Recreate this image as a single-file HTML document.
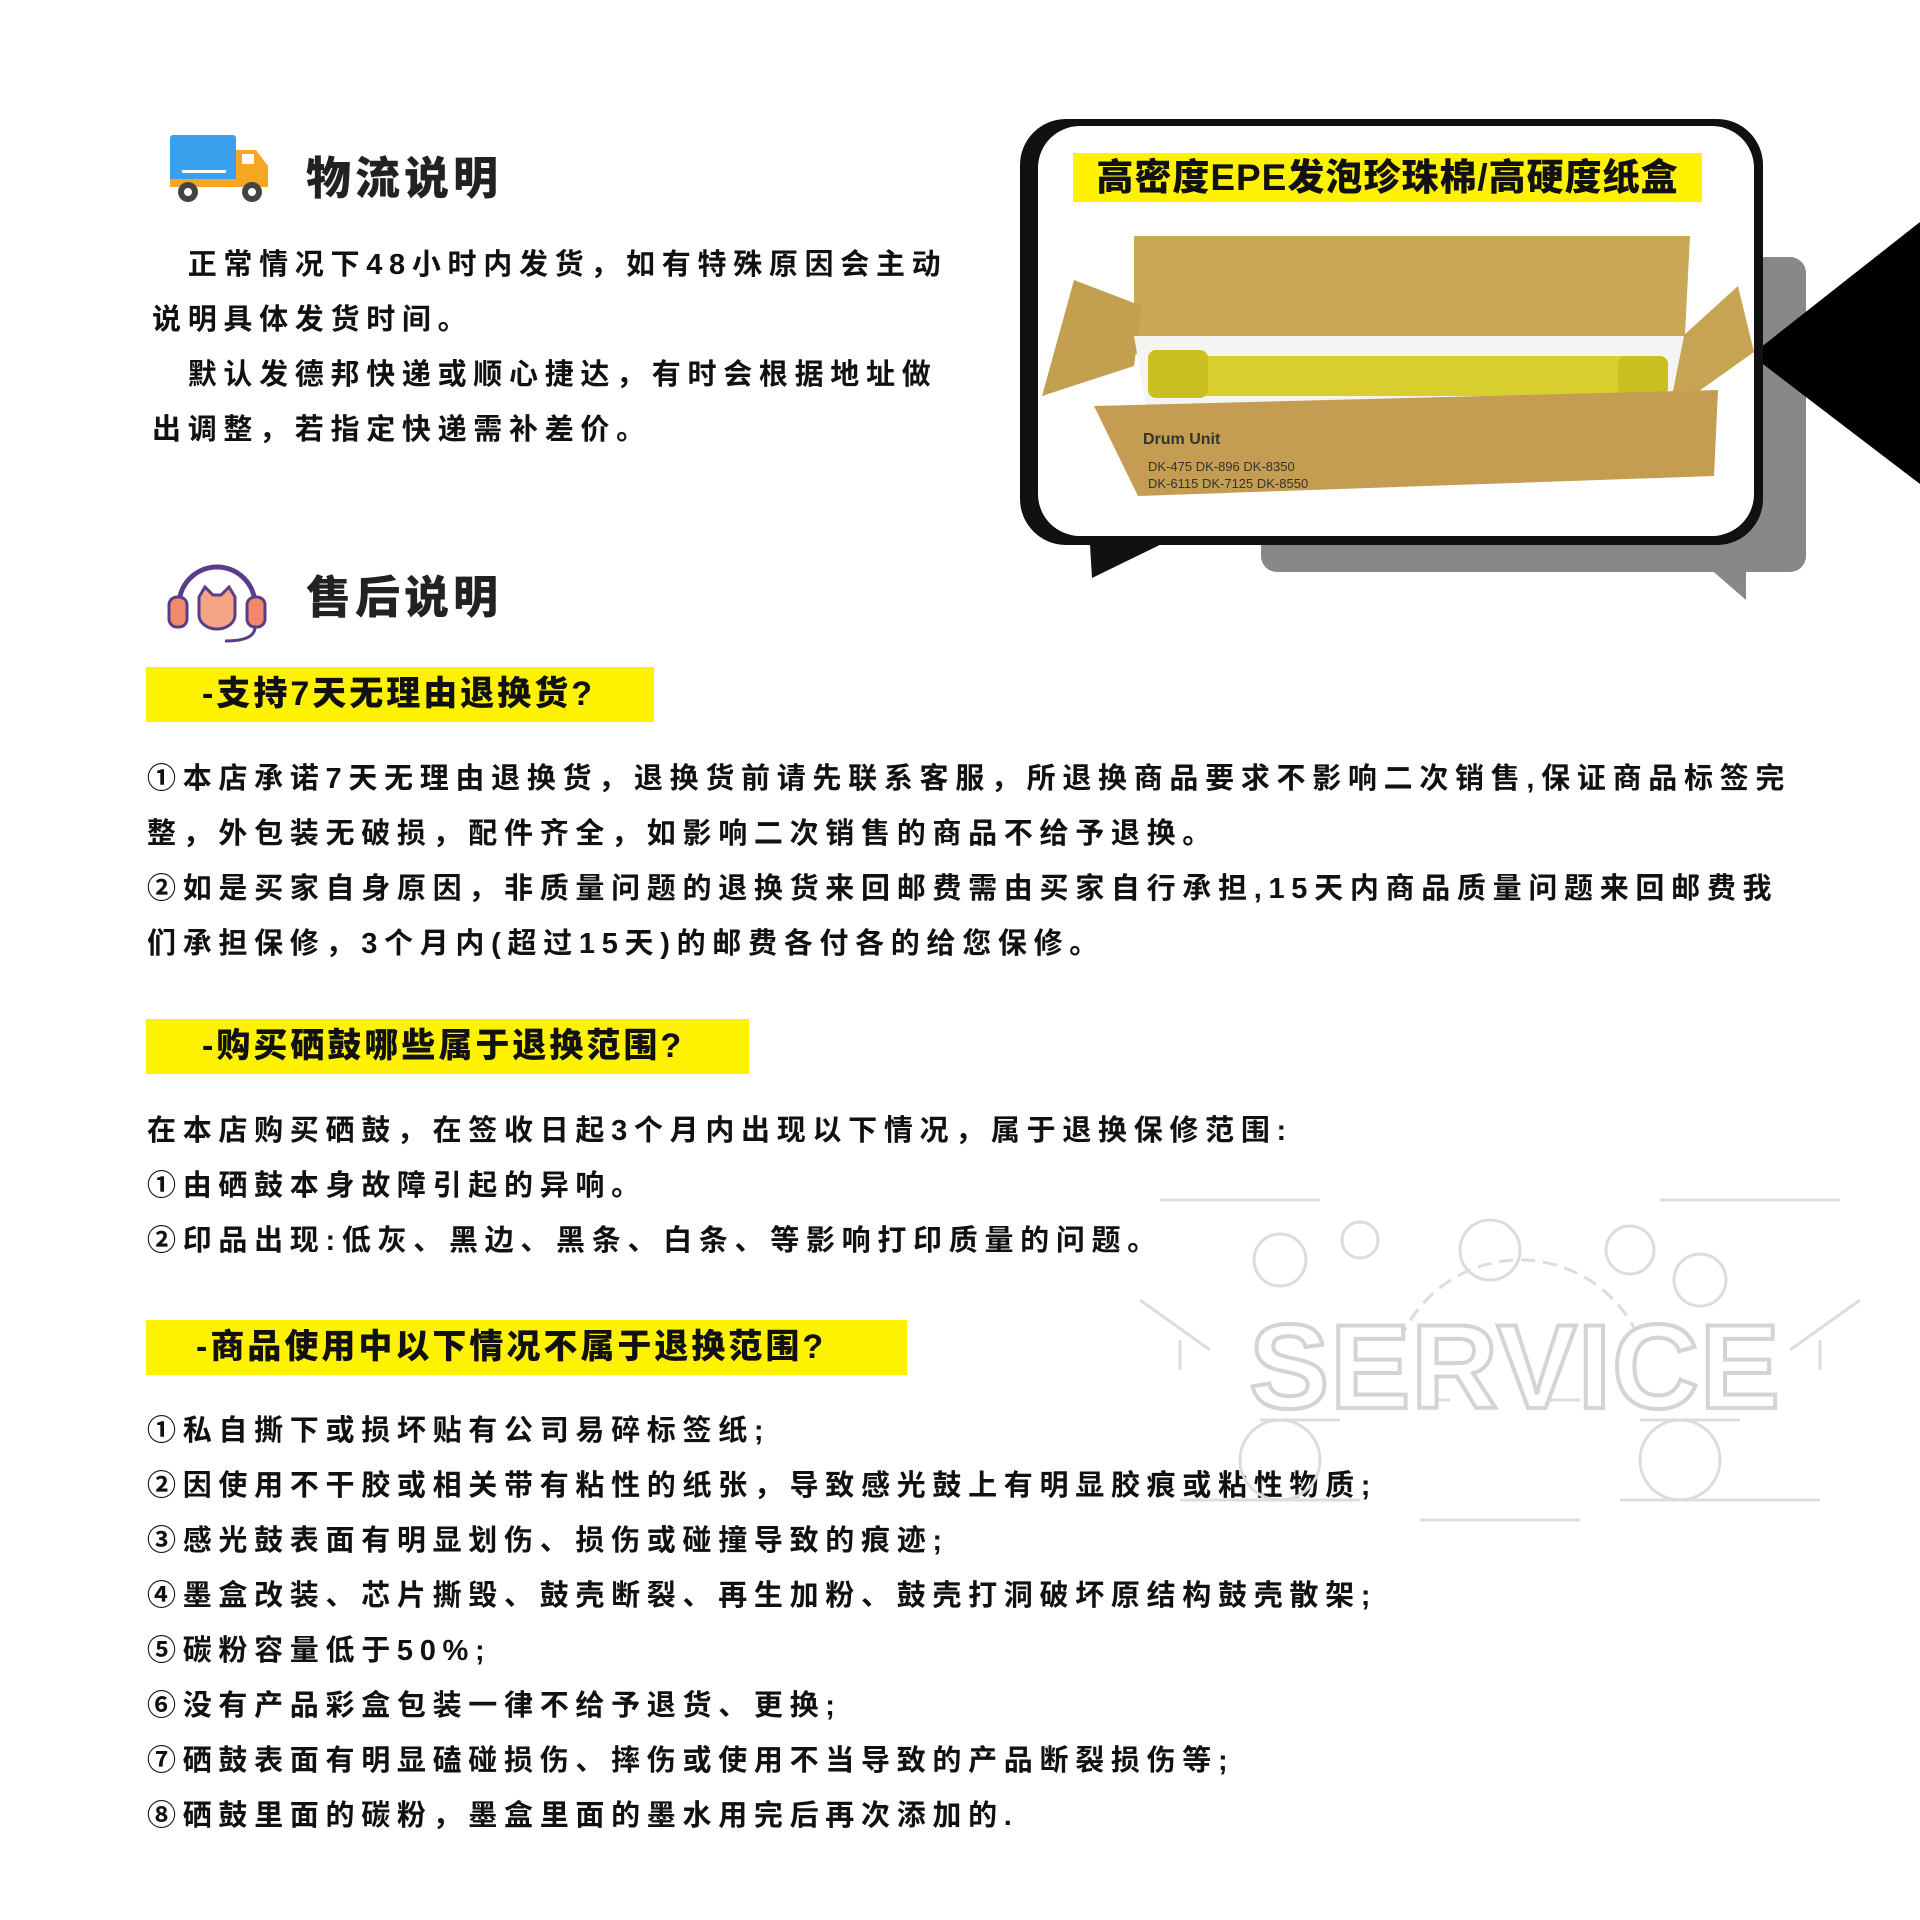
<!DOCTYPE html>
<html><head><meta charset="utf-8"><style>
*{margin:0;padding:0;box-sizing:border-box}
body{width:1920px;height:1920px;background:#fff;position:relative;overflow:hidden;font-family:"Liberation Sans","Noto Sans CJK SC",sans-serif;color:#111}
.a{position:absolute;white-space:nowrap}
.t{font-size:45px;font-weight:900;letter-spacing:4px;color:#222}
.p{font-size:29px;font-weight:700;letter-spacing:6.7px;line-height:55px}
.bar{position:absolute;background:#fff200;left:146px;height:55px;font-size:34px;font-weight:900;letter-spacing:3px;line-height:55px}
</style></head><body>

<!-- truck icon -->
<svg class="a" style="left:166px;top:132px" width="106" height="76" viewBox="0 0 106 76">
<rect x="4" y="3" width="66" height="48" rx="3" fill="#3aa0ee"/>
<rect x="16" y="38" width="44" height="3" fill="#fff"/>
<path d="M70 18h20l12 16v20H70z" fill="#f5a623"/>
<rect x="76" y="22" width="12" height="10" fill="#fff"/>
<rect x="4" y="47" width="98" height="8" fill="#f5a623"/>
<circle cx="22" cy="60" r="10" fill="#444"/><circle cx="22" cy="60" r="4" fill="#fff"/>
<circle cx="86" cy="60" r="10" fill="#444"/><circle cx="86" cy="60" r="4" fill="#fff"/>
</svg>
<div class="a t" style="left:306px;top:142px">物流说明</div>
<div class="a p" style="left:152px;top:238px">
<div>&emsp;正常情况下48小时内发货，如有特殊原因会主动</div>
<div>说明具体发货时间。</div>
<div>&emsp;默认发德邦快递或顺心捷达，有时会根据地址做</div>
<div>出调整，若指定快递需补差价。</div>
</div>

<!-- bubble -->
<div class="a" style="left:1261px;top:257px;width:545px;height:315px;background:#888;border-radius:16px"></div>
<svg class="a" style="left:0;top:0" width="1920" height="620">
<polygon points="1700,560 1746,572 1746,600" fill="#888"/>
<polygon points="1090,545 1170,540 1092,578" fill="#111"/>
<polygon points="1751,355 1920,222 1920,484" fill="#000"/>
</svg>
<div class="a" style="left:1020px;top:119px;width:743px;height:426px;background:#111;border-radius:46px"></div>
<div class="a" style="left:1038px;top:126px;width:716px;height:410px;background:#fff;border-radius:42px;overflow:hidden">
  <svg class="a" style="left:0;top:100px" width="716" height="300" viewBox="0 0 716 300">
    <polygon points="96,10 652,10 646,128 96,128" fill="#c9a858"/>
    <polygon points="4,170 36,54 104,80 96,140" fill="#c39f50"/>
    <polygon points="612,140 700,60 716,126 640,180" fill="#c7a454"/>
    <polygon points="96,110 646,110 630,190 110,190" fill="#f4f4f2"/>
    <rect x="130" y="130" width="500" height="40" rx="18" fill="#d8cf2e"/>
    <rect x="110" y="124" width="60" height="48" rx="8" fill="#c9c020"/>
    <rect x="580" y="130" width="50" height="40" rx="8" fill="#c9c020"/>
    <polygon points="56,180 680,164 676,250 100,270" fill="#c49d52"/>
    <text x="105" y="218" font-size="16" font-weight="700" fill="#333" font-family="Liberation Sans">Drum Unit</text>
    <text x="110" y="245" font-size="13" fill="#333" font-family="Liberation Sans">DK-475   DK-896   DK-8350</text>
    <text x="110" y="262" font-size="13" fill="#333" font-family="Liberation Sans">DK-6115  DK-7125  DK-8550</text>
  </svg>
</div>
<div class="a" style="left:1073px;top:153px;width:629px;height:49px;background:#fff200;font-size:37px;font-weight:900;line-height:49px;text-align:center;letter-spacing:1px">高密度EPE发泡珍珠棉/高硬度纸盒</div>

<!-- headset icon -->
<svg class="a" style="left:165px;top:557px" width="104" height="88" viewBox="0 0 104 88">
<path d="M14 48 A38 38 0 0 1 90 48" fill="none" stroke="#5a3d8a" stroke-width="5"/>
<rect x="4" y="40" width="18" height="30" rx="8" fill="#f08a6a" stroke="#5a3d8a" stroke-width="3"/>
<rect x="82" y="40" width="18" height="30" rx="8" fill="#f08a6a" stroke="#5a3d8a" stroke-width="3"/>
<path d="M34 40l6-10 8 8h8l8-8 6 10v18a18 14 0 0 1-36 0z" fill="#f5a585" stroke="#5a3d8a" stroke-width="3"/>
<path d="M90 70 q0 14 -30 14" fill="none" stroke="#5a3d8a" stroke-width="3"/>
</svg>
<div class="a t" style="left:306px;top:561px">售后说明</div>

<div class="bar" style="top:667px;width:508px;padding-left:56px">-支持7天无理由退换货?</div>
<div class="a p" style="left:147px;top:752px">
<div>①本店承诺7天无理由退换货，退换货前请先联系客服，所退换商品要求不影响二次销售,保证商品标签完</div>
<div>整，外包装无破损，配件齐全，如影响二次销售的商品不给予退换。</div>
<div>②如是买家自身原因，非质量问题的退换货来回邮费需由买家自行承担,15天内商品质量问题来回邮费我</div>
<div>们承担保修，3个月内(超过15天)的邮费各付各的给您保修。</div>
</div>

<div class="bar" style="top:1019px;width:603px;padding-left:56px">-购买硒鼓哪些属于退换范围?</div>
<div class="a p" style="left:147px;top:1104px">
<div>在本店购买硒鼓，在签收日起3个月内出现以下情况，属于退换保修范围:</div>
<div>①由硒鼓本身故障引起的异响。</div>
<div>②印品出现:低灰、黑边、黑条、白条、等影响打印质量的问题。</div>
</div>

<div class="bar" style="top:1320px;width:761px;padding-left:50px">-商品使用中以下情况不属于退换范围?</div>
<div class="a p" style="left:147px;top:1404px">
<div>①私自撕下或损坏贴有公司易碎标签纸;</div>
<div>②因使用不干胶或相关带有粘性的纸张，导致感光鼓上有明显胶痕或粘性物质;</div>
<div>③感光鼓表面有明显划伤、损伤或碰撞导致的痕迹;</div>
<div>④墨盒改装、芯片撕毁、鼓壳断裂、再生加粉、鼓壳打洞破坏原结构鼓壳散架;</div>
<div>⑤碳粉容量低于50%;</div>
<div>⑥没有产品彩盒包装一律不给予退货、更换;</div>
<div>⑦硒鼓表面有明显磕碰损伤、摔伤或使用不当导致的产品断裂损伤等;</div>
<div>⑧硒鼓里面的碳粉，墨盒里面的墨水用完后再次添加的.</div>
</div>

<!-- service illustration -->
<svg class="a" style="left:1120px;top:1140px" width="760" height="440" viewBox="0 0 760 440" fill="none" stroke="#dcdcdc" stroke-width="3">
<path d="M280 200 A130 130 0 0 1 520 200" stroke-dasharray="14 8"/>
<circle cx="160" cy="120" r="26"/><circle cx="240" cy="100" r="18"/><circle cx="510" cy="110" r="24"/><circle cx="580" cy="140" r="26"/>
<circle cx="160" cy="320" r="40"/><circle cx="560" cy="320" r="40"/><circle cx="370" cy="110" r="30"/>
<path d="M20 160 L90 210 M740 160 L670 210 M60 200 L60 230 M700 200 L700 230"/>
<path d="M40 60 H200 M540 60 H720 M60 360 H240 M500 360 H700"/>
<path d="M300 260 H330 M420 260 H460" />
<path d="M140 280 L220 280 M520 280 L620 280 M300 380 H460"/>
<text x="395" y="268" text-anchor="middle" font-family="Liberation Sans" font-size="120" font-weight="700" fill="#fff" stroke="#d4d4d4" stroke-width="4" letter-spacing="1">SERVICE</text>
</svg>
</body></html>
